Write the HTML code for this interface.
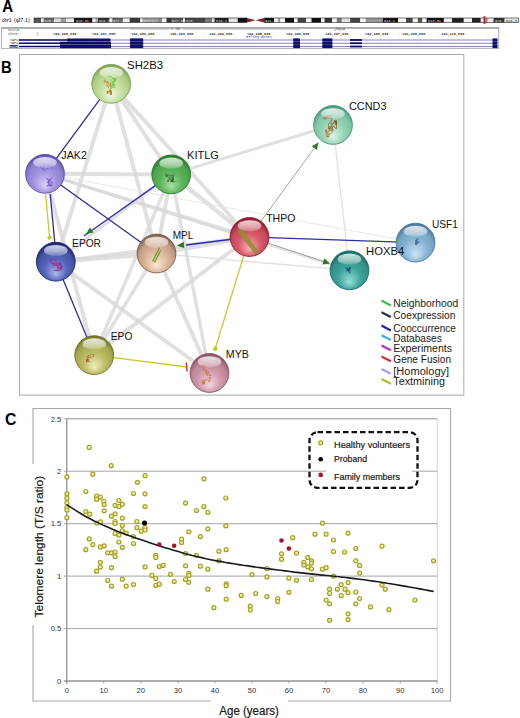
<!DOCTYPE html>
<html><head><meta charset="utf-8"><title>Figure</title>
<style>html,body{margin:0;padding:0;background:#fff;}body{width:520px;height:718px;overflow:hidden;position:relative;}
svg{position:absolute;left:0;top:0;font-family:"Liberation Sans",sans-serif;}</style></head>
<body><svg width="520" height="718" viewBox="0 0 520 718"><defs><radialGradient id="gSH2B3" cx="0.5" cy="0.6" r="0.58" fx="0.5" fy="0.82"><stop offset="0" stop-color="#eef7e0"/><stop offset="0.5" stop-color="#c4de9c"/><stop offset="0.8" stop-color="#afcd87"/><stop offset="1" stop-color="#7fa455"/></radialGradient><radialGradient id="gJAK2" cx="0.5" cy="0.6" r="0.58" fx="0.5" fy="0.82"><stop offset="0" stop-color="#d8d0f8"/><stop offset="0.5" stop-color="#a293e0"/><stop offset="0.8" stop-color="#8e7fd2"/><stop offset="1" stop-color="#5f4fb0"/></radialGradient><radialGradient id="gKITLG" cx="0.5" cy="0.6" r="0.58" fx="0.5" fy="0.82"><stop offset="0" stop-color="#a8e0a0"/><stop offset="0.5" stop-color="#5cb45c"/><stop offset="0.8" stop-color="#4da34d"/><stop offset="1" stop-color="#2a7a2a"/></radialGradient><radialGradient id="gCCND3" cx="0.5" cy="0.6" r="0.58" fx="0.5" fy="0.82"><stop offset="0" stop-color="#daf4e8"/><stop offset="0.5" stop-color="#96d4b6"/><stop offset="0.8" stop-color="#80c3a5"/><stop offset="1" stop-color="#4e9a7c"/></radialGradient><radialGradient id="gTHPO" cx="0.5" cy="0.6" r="0.58" fx="0.5" fy="0.82"><stop offset="0" stop-color="#f6b0b8"/><stop offset="0.5" stop-color="#d85a68"/><stop offset="0.8" stop-color="#c24757"/><stop offset="1" stop-color="#901c30"/></radialGradient><radialGradient id="gUSF1" cx="0.5" cy="0.6" r="0.58" fx="0.5" fy="0.82"><stop offset="0" stop-color="#cce6f6"/><stop offset="0.5" stop-color="#8ab6d6"/><stop offset="0.8" stop-color="#77a3c3"/><stop offset="1" stop-color="#4a7898"/></radialGradient><radialGradient id="gHOXB4" cx="0.5" cy="0.6" r="0.58" fx="0.5" fy="0.82"><stop offset="0" stop-color="#98e0d8"/><stop offset="0.5" stop-color="#3ea49c"/><stop offset="0.8" stop-color="#33938b"/><stop offset="1" stop-color="#1a6a64"/></radialGradient><radialGradient id="gEPOR" cx="0.5" cy="0.6" r="0.58" fx="0.5" fy="0.82"><stop offset="0" stop-color="#aab6ea"/><stop offset="0.5" stop-color="#5666bc"/><stop offset="0.8" stop-color="#4553a5"/><stop offset="1" stop-color="#1e2870"/></radialGradient><radialGradient id="gMPL" cx="0.5" cy="0.6" r="0.58" fx="0.5" fy="0.82"><stop offset="0" stop-color="#fbe6d6"/><stop offset="0.5" stop-color="#dcb69a"/><stop offset="0.8" stop-color="#c09d84"/><stop offset="1" stop-color="#806250"/></radialGradient><radialGradient id="gEPO" cx="0.5" cy="0.6" r="0.58" fx="0.5" fy="0.82"><stop offset="0" stop-color="#eeeebc"/><stop offset="0.5" stop-color="#bcbc64"/><stop offset="0.8" stop-color="#a6a653"/><stop offset="1" stop-color="#74742a"/></radialGradient><radialGradient id="gMYB" cx="0.5" cy="0.6" r="0.58" fx="0.5" fy="0.82"><stop offset="0" stop-color="#f2d6de"/><stop offset="0.5" stop-color="#d09aaa"/><stop offset="0.8" stop-color="#bb8494"/><stop offset="1" stop-color="#8a5262"/></radialGradient><linearGradient id="hl" x1="0" y1="0" x2="0" y2="1"><stop offset="0" stop-color="#fff" stop-opacity="0.8"/><stop offset="0.7" stop-color="#fff" stop-opacity="0.45"/><stop offset="1" stop-color="#fff" stop-opacity="0.15"/></linearGradient></defs>
<rect width="520" height="718" fill="#fff"/>
<text x="2.2" y="12.3" font-size="16" font-weight="bold" fill="#000" transform="translate(2,0) scale(0.94,1) translate(-2,0)">A</text>
<text x="2" y="21.8" font-size="5.8" font-weight="bold" font-family="Liberation Mono, monospace" fill="#2a2a2a" textLength="28" lengthAdjust="spacingAndGlyphs">chr3 (q27.1)</text>
<rect x="34" y="18.0" width="7.200000000000003" height="4.5" fill="#555"/>
<rect x="41.2" y="18.0" width="2.5" height="4.5" fill="#eee"/>
<rect x="43.7" y="18.0" width="10.699999999999996" height="4.5" fill="#6a6a6a"/>
<rect x="54.4" y="18.0" width="6.200000000000003" height="4.5" fill="#ddd"/>
<rect x="60.6" y="18.0" width="5.399999999999999" height="4.5" fill="#999"/>
<rect x="66" y="18.0" width="8" height="4.5" fill="#eaeaea"/>
<rect x="74" y="18.0" width="18.5" height="4.5" fill="#151515"/>
<rect x="92.5" y="18.0" width="2.9000000000000057" height="4.5" fill="#f0f0f0"/>
<rect x="95.4" y="18.0" width="2.5999999999999943" height="4.5" fill="#aaa"/>
<rect x="98" y="18.0" width="11.599999999999994" height="4.5" fill="#333"/>
<rect x="109.6" y="18.0" width="2.700000000000003" height="4.5" fill="#f4f4f4"/>
<rect x="112.3" y="18.0" width="10.700000000000003" height="4.5" fill="#666"/>
<rect x="123" y="18.0" width="6.599999999999994" height="4.5" fill="#eee"/>
<rect x="129.6" y="18.0" width="10.800000000000011" height="4.5" fill="#3a3a3a"/>
<rect x="140.4" y="18.0" width="1.9000000000000057" height="4.5" fill="#f4f4f4"/>
<rect x="142.3" y="18.0" width="15.0" height="4.5" fill="#a0a0a0"/>
<rect x="157.3" y="18.0" width="4.699999999999989" height="4.5" fill="#888"/>
<rect x="162" y="18.0" width="4.5" height="4.5" fill="#f4f4f4"/>
<rect x="166.5" y="18.0" width="4.5" height="4.5" fill="#333"/>
<rect x="171" y="18.0" width="12" height="4.5" fill="#555"/>
<rect x="183" y="18.0" width="2" height="4.5" fill="#eee"/>
<rect x="185" y="18.0" width="20" height="4.5" fill="#444"/>
<rect x="205" y="18.0" width="7" height="4.5" fill="#777"/>
<rect x="212" y="18.0" width="2.5999999999999943" height="4.5" fill="#ddd"/>
<rect x="214.6" y="18.0" width="14.200000000000017" height="4.5" fill="#222"/>
<rect x="228.8" y="18.0" width="8.899999999999977" height="4.5" fill="#e4e4e4"/>
<rect x="237.7" y="18.0" width="9.300000000000011" height="4.5" fill="#111"/>
<rect x="264.2" y="18.0" width="10.0" height="4.5" fill="#111"/>
<rect x="274.2" y="18.0" width="3.8000000000000114" height="4.5" fill="#eee"/>
<rect x="278" y="18.0" width="2.3999999999999773" height="4.5" fill="#999"/>
<rect x="280.4" y="18.0" width="4.600000000000023" height="4.5" fill="#f4f4f4"/>
<rect x="285" y="18.0" width="9" height="4.5" fill="#111"/>
<rect x="294" y="18.0" width="3.6000000000000227" height="4.5" fill="#f4f4f4"/>
<rect x="297.6" y="18.0" width="8.399999999999977" height="4.5" fill="#444"/>
<rect x="306" y="18.0" width="5.5" height="4.5" fill="#f4f4f4"/>
<rect x="311.5" y="18.0" width="9.5" height="4.5" fill="#111"/>
<rect x="321" y="18.0" width="3.5" height="4.5" fill="#f4f4f4"/>
<rect x="324.5" y="18.0" width="7.699999999999989" height="4.5" fill="#333"/>
<rect x="332.2" y="18.0" width="4.600000000000023" height="4.5" fill="#f4f4f4"/>
<rect x="336.8" y="18.0" width="5.0" height="4.5" fill="#777"/>
<rect x="341.8" y="18.0" width="8.399999999999977" height="4.5" fill="#e0e0e0"/>
<rect x="350.2" y="18.0" width="10.0" height="4.5" fill="#444"/>
<rect x="360.2" y="18.0" width="5.400000000000034" height="4.5" fill="#f4f4f4"/>
<rect x="365.6" y="18.0" width="17.19999999999999" height="4.5" fill="#999"/>
<rect x="382.8" y="18.0" width="15.399999999999977" height="4.5" fill="#111"/>
<rect x="398.2" y="18.0" width="7.800000000000011" height="4.5" fill="#f4f4f4"/>
<rect x="406" y="18.0" width="6.800000000000011" height="4.5" fill="#444"/>
<rect x="412.8" y="18.0" width="5.0" height="4.5" fill="#f4f4f4"/>
<rect x="417.8" y="18.0" width="4.599999999999966" height="4.5" fill="#555"/>
<rect x="422.4" y="18.0" width="4.2000000000000455" height="4.5" fill="#f4f4f4"/>
<rect x="426.6" y="18.0" width="17.299999999999955" height="4.5" fill="#111"/>
<rect x="443.9" y="18.0" width="8.100000000000023" height="4.5" fill="#eee"/>
<rect x="452" y="18.0" width="11.800000000000011" height="4.5" fill="#222"/>
<rect x="463.8" y="18.0" width="8.199999999999989" height="4.5" fill="#f4f4f4"/>
<rect x="472" y="18.0" width="8.800000000000011" height="4.5" fill="#222"/>
<rect x="480.8" y="18.0" width="2.6999999999999886" height="4.5" fill="#eee"/>
<rect x="485.4" y="18.0" width="2.3000000000000114" height="4.5" fill="#888"/>
<rect x="487.7" y="18.0" width="5.800000000000011" height="4.5" fill="#f4e8ec"/>
<rect x="493.5" y="18.0" width="11.100000000000023" height="4.5" fill="#333"/>
<rect x="504.6" y="18.0" width="13.899999999999977" height="4.5" fill="#e4e4e4"/>
<text x="44.5" y="21.6" font-size="3.6" fill="#ddd" font-family="Liberation Mono, monospace">q26.2</text>
<text x="76" y="21.6" font-size="3.6" fill="#ddd" font-family="Liberation Mono, monospace">q26.31</text>
<text x="99" y="21.6" font-size="3.6" fill="#ddd" font-family="Liberation Mono, monospace">q26.33</text>
<text x="113" y="21.6" font-size="3.6" fill="#ddd" font-family="Liberation Mono, monospace">q27.1</text>
<text x="143" y="21.6" font-size="3.6" fill="#ddd" font-family="Liberation Mono, monospace">q27.2</text>
<text x="172" y="21.6" font-size="3.6" fill="#ddd" font-family="Liberation Mono, monospace">q27.3</text>
<text x="186" y="21.6" font-size="3.6" fill="#ddd" font-family="Liberation Mono, monospace">q28</text>
<text x="216" y="21.6" font-size="3.6" fill="#ddd" font-family="Liberation Mono, monospace">p29.2</text>
<text x="265" y="21.6" font-size="3.6" fill="#ddd" font-family="Liberation Mono, monospace">q11.2</text>
<text x="384" y="21.6" font-size="3.6" fill="#ddd" font-family="Liberation Mono, monospace">q13.1</text>
<text x="428" y="21.6" font-size="3.6" fill="#ddd" font-family="Liberation Mono, monospace">q13.31</text>
<text x="495" y="21.6" font-size="3.6" fill="#ddd" font-family="Liberation Mono, monospace">q29</text>
<path d="M247,18.0 L34,18.0 L34,22.5 L247,22.5 M264.2,18.0 L518.5,18.0 L518.5,22.5 L264.2,22.5" fill="none" stroke="#222" stroke-width="0.6"/>
<path d="M247,18 L255.6,20.25 L247,22.5 Z M264.2,18 L255.6,20.25 L264.2,22.5 Z" fill="#8a1c2c"/>
<rect x="483.5" y="16.2" width="1.9" height="7.7" fill="#c81830"/>
<text x="506" y="21.6" font-size="3.6" fill="#333" font-family="Liberation Mono, monospace">q29.3</text>
<rect x="1.5" y="28" width="497.2" height="20.4" fill="#fff" stroke="#b0b0b0" stroke-width="1"/>
<line x1="1" y1="27.9" x2="499" y2="27.9" stroke="#9a9a9a" stroke-width="1.2"/>
<line x1="18.8" y1="31" x2="18.8" y2="48" stroke="#ececf6" stroke-width="0.5"/>
<line x1="28.6" y1="31" x2="28.6" y2="48" stroke="#ececf6" stroke-width="0.5"/>
<line x1="38.3" y1="31" x2="38.3" y2="48" stroke="#ececf6" stroke-width="0.5"/>
<line x1="48.0" y1="31" x2="48.0" y2="48" stroke="#ececf6" stroke-width="0.5"/>
<line x1="57.8" y1="31" x2="57.8" y2="48" stroke="#ececf6" stroke-width="0.5"/>
<line x1="67.5" y1="31" x2="67.5" y2="48" stroke="#ececf6" stroke-width="0.5"/>
<line x1="77.3" y1="31" x2="77.3" y2="48" stroke="#ececf6" stroke-width="0.5"/>
<line x1="87.0" y1="31" x2="87.0" y2="48" stroke="#ececf6" stroke-width="0.5"/>
<line x1="96.8" y1="31" x2="96.8" y2="48" stroke="#ececf6" stroke-width="0.5"/>
<line x1="106.5" y1="31" x2="106.5" y2="48" stroke="#ececf6" stroke-width="0.5"/>
<line x1="116.3" y1="31" x2="116.3" y2="48" stroke="#ececf6" stroke-width="0.5"/>
<line x1="126.0" y1="31" x2="126.0" y2="48" stroke="#ececf6" stroke-width="0.5"/>
<line x1="135.8" y1="31" x2="135.8" y2="48" stroke="#ececf6" stroke-width="0.5"/>
<line x1="145.6" y1="31" x2="145.6" y2="48" stroke="#ececf6" stroke-width="0.5"/>
<line x1="155.3" y1="31" x2="155.3" y2="48" stroke="#ececf6" stroke-width="0.5"/>
<line x1="165.1" y1="31" x2="165.1" y2="48" stroke="#ececf6" stroke-width="0.5"/>
<line x1="174.8" y1="31" x2="174.8" y2="48" stroke="#ececf6" stroke-width="0.5"/>
<line x1="184.6" y1="31" x2="184.6" y2="48" stroke="#ececf6" stroke-width="0.5"/>
<line x1="194.3" y1="31" x2="194.3" y2="48" stroke="#ececf6" stroke-width="0.5"/>
<line x1="204.1" y1="31" x2="204.1" y2="48" stroke="#ececf6" stroke-width="0.5"/>
<line x1="213.8" y1="31" x2="213.8" y2="48" stroke="#ececf6" stroke-width="0.5"/>
<line x1="223.6" y1="31" x2="223.6" y2="48" stroke="#ececf6" stroke-width="0.5"/>
<line x1="233.3" y1="31" x2="233.3" y2="48" stroke="#ececf6" stroke-width="0.5"/>
<line x1="243.1" y1="31" x2="243.1" y2="48" stroke="#ececf6" stroke-width="0.5"/>
<line x1="252.8" y1="31" x2="252.8" y2="48" stroke="#ececf6" stroke-width="0.5"/>
<line x1="262.6" y1="31" x2="262.6" y2="48" stroke="#ececf6" stroke-width="0.5"/>
<line x1="272.3" y1="31" x2="272.3" y2="48" stroke="#ececf6" stroke-width="0.5"/>
<line x1="282.1" y1="31" x2="282.1" y2="48" stroke="#ececf6" stroke-width="0.5"/>
<line x1="291.8" y1="31" x2="291.8" y2="48" stroke="#ececf6" stroke-width="0.5"/>
<line x1="301.6" y1="31" x2="301.6" y2="48" stroke="#ececf6" stroke-width="0.5"/>
<line x1="311.3" y1="31" x2="311.3" y2="48" stroke="#ececf6" stroke-width="0.5"/>
<line x1="321.1" y1="31" x2="321.1" y2="48" stroke="#ececf6" stroke-width="0.5"/>
<line x1="330.8" y1="31" x2="330.8" y2="48" stroke="#ececf6" stroke-width="0.5"/>
<line x1="340.6" y1="31" x2="340.6" y2="48" stroke="#ececf6" stroke-width="0.5"/>
<line x1="350.3" y1="31" x2="350.3" y2="48" stroke="#ececf6" stroke-width="0.5"/>
<line x1="360.1" y1="31" x2="360.1" y2="48" stroke="#ececf6" stroke-width="0.5"/>
<line x1="369.8" y1="31" x2="369.8" y2="48" stroke="#ececf6" stroke-width="0.5"/>
<line x1="379.6" y1="31" x2="379.6" y2="48" stroke="#ececf6" stroke-width="0.5"/>
<line x1="389.3" y1="31" x2="389.3" y2="48" stroke="#ececf6" stroke-width="0.5"/>
<line x1="399.1" y1="31" x2="399.1" y2="48" stroke="#ececf6" stroke-width="0.5"/>
<line x1="408.8" y1="31" x2="408.8" y2="48" stroke="#ececf6" stroke-width="0.5"/>
<line x1="418.6" y1="31" x2="418.6" y2="48" stroke="#ececf6" stroke-width="0.5"/>
<line x1="428.3" y1="31" x2="428.3" y2="48" stroke="#ececf6" stroke-width="0.5"/>
<line x1="438.1" y1="31" x2="438.1" y2="48" stroke="#ececf6" stroke-width="0.5"/>
<line x1="447.8" y1="31" x2="447.8" y2="48" stroke="#ececf6" stroke-width="0.5"/>
<line x1="457.6" y1="31" x2="457.6" y2="48" stroke="#ececf6" stroke-width="0.5"/>
<line x1="467.3" y1="31" x2="467.3" y2="48" stroke="#ececf6" stroke-width="0.5"/>
<line x1="477.1" y1="31" x2="477.1" y2="48" stroke="#ececf6" stroke-width="0.5"/>
<line x1="486.8" y1="31" x2="486.8" y2="48" stroke="#ececf6" stroke-width="0.5"/>
<line x1="496.6" y1="31" x2="496.6" y2="48" stroke="#ececf6" stroke-width="0.5"/>
<text x="8" y="31.4" font-size="3.8" fill="#333" font-family="Liberation Mono, monospace">Scale</text>
<text x="8" y="35" font-size="3.8" fill="#333" font-family="Liberation Mono, monospace">chr3:</text>
<text x="171" y="30.3" font-size="3.8" fill="#444" font-family="Liberation Mono, monospace">2 kb</text>
<line x1="130" y1="29.4" x2="170" y2="29.4" stroke="#888" stroke-width="0.4"/>
<line x1="183" y1="29.4" x2="300" y2="29.4" stroke="#888" stroke-width="0.4"/>
<text x="336" y="30.3" font-size="3.8" fill="#444" font-family="Liberation Mono, monospace">hg19</text>
<line x1="335" y1="28.6" x2="335" y2="31" stroke="#555" stroke-width="0.5"/>
<text x="36" y="35" font-size="3.8" fill="#333" font-family="Liberation Mono, monospace">|</text>
<text x="53" y="35.1" font-size="4.4" font-weight="bold" fill="#3a3a3a" font-family="Liberation Mono, monospace" textLength="23.5" lengthAdjust="spacingAndGlyphs">104,400,000</text>
<text x="92" y="35.1" font-size="4.4" font-weight="bold" fill="#3a3a3a" font-family="Liberation Mono, monospace" textLength="23.5" lengthAdjust="spacingAndGlyphs">104,401,000</text>
<text x="131" y="35.1" font-size="4.4" font-weight="bold" fill="#3a3a3a" font-family="Liberation Mono, monospace" textLength="23.5" lengthAdjust="spacingAndGlyphs">104,402,000</text>
<text x="170" y="35.1" font-size="4.4" font-weight="bold" fill="#3a3a3a" font-family="Liberation Mono, monospace" textLength="23.5" lengthAdjust="spacingAndGlyphs">104,403,000</text>
<text x="209" y="35.1" font-size="4.4" font-weight="bold" fill="#3a3a3a" font-family="Liberation Mono, monospace" textLength="23.5" lengthAdjust="spacingAndGlyphs">104,404,000</text>
<text x="247" y="35.1" font-size="4.4" font-weight="bold" fill="#3a3a3a" font-family="Liberation Mono, monospace" textLength="23.5" lengthAdjust="spacingAndGlyphs">104,405,000</text>
<text x="286" y="35.1" font-size="4.4" font-weight="bold" fill="#3a3a3a" font-family="Liberation Mono, monospace" textLength="23.5" lengthAdjust="spacingAndGlyphs">104,406,000</text>
<text x="325" y="35.1" font-size="4.4" font-weight="bold" fill="#3a3a3a" font-family="Liberation Mono, monospace" textLength="23.5" lengthAdjust="spacingAndGlyphs">104,407,000</text>
<text x="365" y="35.1" font-size="4.4" font-weight="bold" fill="#3a3a3a" font-family="Liberation Mono, monospace" textLength="23.5" lengthAdjust="spacingAndGlyphs">104,408,000</text>
<text x="402" y="35.1" font-size="4.4" font-weight="bold" fill="#3a3a3a" font-family="Liberation Mono, monospace" textLength="23.5" lengthAdjust="spacingAndGlyphs">104,409,000</text>
<text x="441" y="35.1" font-size="4.4" font-weight="bold" fill="#3a3a3a" font-family="Liberation Mono, monospace" textLength="23.5" lengthAdjust="spacingAndGlyphs">104,410,000</text>
<text x="246" y="38.3" font-size="3.6" fill="#3040b0" font-family="Liberation Mono, monospace">RefSeq Genes</text>
<text x="10" y="41" font-size="3.4" fill="#222" font-family="Liberation Mono, monospace">TAP1</text>
<text x="10" y="44.2" font-size="3.4" fill="#222" font-family="Liberation Mono, monospace">TAP1</text>
<rect x="9.8" y="45.1" width="8" height="2.9" fill="#1a1a70"/>
<text x="10" y="47.6" font-size="3.4" fill="#fff" font-family="Liberation Mono, monospace">NDUF</text>
<rect x="17.8" y="38.6" width="1.2" height="9.4" fill="#c8d0f0"/>
<line x1="19" y1="40.0" x2="496" y2="40.0" stroke="#8585b5" stroke-width="1.1"/>
<line x1="19" y1="40.0" x2="67" y2="40.0" stroke="#101070" stroke-width="1.6"/>
<line x1="19" y1="43.2" x2="496" y2="43.2" stroke="#8585b5" stroke-width="1.1"/>
<line x1="19" y1="43.2" x2="61" y2="43.2" stroke="#101070" stroke-width="1.6"/>
<line x1="19" y1="46.5" x2="496" y2="46.5" stroke="#8585b5" stroke-width="1.1"/>
<line x1="19" y1="46.5" x2="61" y2="46.5" stroke="#101070" stroke-width="1.6"/>
<rect x="67" y="38.5" width="43.5" height="3" fill="#0e0e66"/>
<rect x="60" y="41.7" width="51" height="3" fill="#0e0e66"/>
<rect x="60" y="45" width="51" height="3.2" fill="#0e0e66"/>
<rect x="130" y="38.4" width="13.199999999999989" height="3.2" fill="#0e0e66"/>
<rect x="130" y="41.6" width="13.199999999999989" height="3.2" fill="#0e0e66"/>
<rect x="130" y="44.9" width="13.199999999999989" height="3.2" fill="#0e0e66"/>
<rect x="293.2" y="38.4" width="6.800000000000011" height="3.2" fill="#0e0e66"/>
<rect x="293.2" y="41.6" width="6.800000000000011" height="3.2" fill="#0e0e66"/>
<rect x="293.2" y="44.9" width="6.800000000000011" height="3.2" fill="#0e0e66"/>
<rect x="322.3" y="38.4" width="10.099999999999966" height="3.2" fill="#0e0e66"/>
<rect x="322.3" y="41.6" width="10.099999999999966" height="3.2" fill="#0e0e66"/>
<rect x="322.3" y="44.9" width="10.099999999999966" height="3.2" fill="#0e0e66"/>
<rect x="492.5" y="38.4" width="5.0" height="3.2" fill="#0e0e66"/>
<rect x="492.5" y="41.6" width="5.0" height="3.2" fill="#0e0e66"/>
<rect x="492.5" y="44.9" width="5.0" height="3.2" fill="#0e0e66"/>
<rect x="350" y="39.1" width="12" height="1.8" fill="#0e0e66"/>
<rect x="350" y="42.300000000000004" width="12" height="1.8" fill="#0e0e66"/>
<rect x="350" y="45.6" width="12" height="1.8" fill="#0e0e66"/>
<text x="1.0" y="72.6" font-size="15.6" font-weight="bold" fill="#000" transform="translate(1,0) scale(0.95,1) translate(-1,0)">B</text>
<rect x="19.5" y="54.5" width="444.3" height="340.6" fill="#fff" stroke="#a8a8a8" stroke-width="1"/>
<g stroke-linecap="butt">
<line x1="111.2" y1="83.8" x2="55.8" y2="261.7" stroke="#d8d8d8" stroke-opacity="0.8" stroke-width="4"/>
<line x1="111.2" y1="83.8" x2="156.5" y2="253.5" stroke="#d8d8d8" stroke-opacity="0.8" stroke-width="4"/>
<line x1="111.2" y1="83.8" x2="171.2" y2="174.4" stroke="#d8d8d8" stroke-opacity="0.8" stroke-width="4"/>
<line x1="111.2" y1="83.8" x2="249.5" y2="237.0" stroke="#d8d8d8" stroke-opacity="0.8" stroke-width="4"/>
<line x1="45.0" y1="173.8" x2="171.2" y2="174.4" stroke="#d8d8d8" stroke-opacity="0.8" stroke-width="4"/>
<line x1="45.0" y1="173.8" x2="249.5" y2="237.0" stroke="#d8d8d8" stroke-opacity="0.8" stroke-width="3.5"/>
<line x1="45.0" y1="173.8" x2="349.5" y2="270.3" stroke="#d8d8d8" stroke-opacity="0.8" stroke-width="2.5"/>
<line x1="45.0" y1="173.8" x2="94.2" y2="355.1" stroke="#d8d8d8" stroke-opacity="0.8" stroke-width="4"/>
<line x1="171.2" y1="174.4" x2="333.0" y2="125.0" stroke="#d8d8d8" stroke-opacity="0.8" stroke-width="3"/>
<line x1="171.2" y1="174.4" x2="249.5" y2="237.0" stroke="#d8d8d8" stroke-opacity="0.8" stroke-width="4.5"/>
<line x1="171.2" y1="174.4" x2="156.5" y2="253.5" stroke="#d8d8d8" stroke-opacity="0.8" stroke-width="4"/>
<line x1="171.2" y1="174.4" x2="94.2" y2="355.1" stroke="#d8d8d8" stroke-opacity="0.8" stroke-width="3.5"/>
<line x1="171.2" y1="174.4" x2="209.5" y2="373.0" stroke="#d8d8d8" stroke-opacity="0.8" stroke-width="3.5"/>
<line x1="171.2" y1="174.4" x2="55.8" y2="261.7" stroke="#d8d8d8" stroke-opacity="0.8" stroke-width="3"/>
<line x1="55.8" y1="261.7" x2="156.5" y2="253.5" stroke="#d8d8d8" stroke-opacity="0.8" stroke-width="4.5"/>
<line x1="55.8" y1="261.7" x2="249.5" y2="237.0" stroke="#d8d8d8" stroke-opacity="0.8" stroke-width="3.5"/>
<line x1="55.8" y1="261.7" x2="209.5" y2="373.0" stroke="#d8d8d8" stroke-opacity="0.8" stroke-width="4"/>
<line x1="156.5" y1="253.5" x2="249.5" y2="237.0" stroke="#d8d8d8" stroke-opacity="0.8" stroke-width="4.5"/>
<line x1="156.5" y1="253.5" x2="209.5" y2="373.0" stroke="#d8d8d8" stroke-opacity="0.8" stroke-width="4"/>
<line x1="156.5" y1="253.5" x2="94.2" y2="355.1" stroke="#d8d8d8" stroke-opacity="0.8" stroke-width="3.5"/>
<line x1="94.2" y1="355.1" x2="249.5" y2="237.0" stroke="#d8d8d8" stroke-opacity="0.8" stroke-width="4"/>
<line x1="333.0" y1="125.0" x2="349.5" y2="270.3" stroke="#e2e2e2" stroke-width="1.4"/>
<line x1="156.5" y1="253.5" x2="349.5" y2="270.3" stroke="#e2e2e2" stroke-width="1.5"/>
<line x1="45.0" y1="173.8" x2="415.5" y2="242.6" stroke="#e2e2e2" stroke-width="0.8"/>
</g>
<line x1="111.2" y1="83.8" x2="45.0" y2="173.8" stroke="#2c2ca8" stroke-width="1.3"/>
<line x1="50.2" y1="194" x2="54.8" y2="243" stroke="#2c2ca8" stroke-width="1.3"/>
<line x1="45.0" y1="173.8" x2="156.5" y2="253.5" stroke="#2c2ca8" stroke-width="1.3"/>
<line x1="171.2" y1="174.4" x2="84" y2="236" stroke="#2c2ca8" stroke-width="1.3"/>
<line x1="55.8" y1="261.7" x2="94.2" y2="355.1" stroke="#2c2ca8" stroke-width="1.3"/>
<line x1="249.5" y1="237.0" x2="186" y2="245" stroke="#2c2ca8" stroke-width="1.3"/>
<line x1="249.5" y1="237.0" x2="415.5" y2="242.6" stroke="#2c2ca8" stroke-width="1.3"/>
<line x1="45.6" y1="194" x2="49.6" y2="237.6" stroke="#c8c830" stroke-width="1.3"/>
<circle cx="49.6" cy="237.6" r="2.2" fill="#c8c830"/>
<line x1="249.5" y1="237.0" x2="215.2" y2="348.7" stroke="#c8c830" stroke-width="1.3"/>
<circle cx="215.2" cy="348.7" r="2.2" fill="#c8c830"/>
<line x1="94.2" y1="355.1" x2="186.7" y2="367" stroke="#c8c830" stroke-width="1.3"/>
<line x1="186.2" y1="362.5" x2="187.2" y2="371.5" stroke="#e03040" stroke-width="1.5"/>
<line x1="249.5" y1="237.0" x2="318.4" y2="142.5" stroke="#9a9a9a" stroke-width="0.9"/>
<line x1="249.5" y1="237.0" x2="328.2" y2="263" stroke="#9a9a9a" stroke-width="0.9"/>
<path d="M318.4,142.5 L316.9,150.0 L311.7,146.3 Z" fill="#2a7a20"/>
<path d="M330.0,263.5 L322.4,264.4 L324.4,258.3 Z" fill="#2a7a20"/>
<path d="M177.0,245.8 L183.6,241.8 L184.3,248.1 Z" fill="#2a7a20"/>
<path d="M86.0,234.0 L89.9,227.4 L93.6,232.6 Z" fill="#2a7a20"/>
<circle cx="111.2" cy="83.8" r="19.4" fill="url(#gSH2B3)" stroke="#7fa455" stroke-width="0.9"/>
<path d="M114.2,82.8 111.9,85.0 113.5,83.5 113.5,83.1 114.5,85.0 111.9,82.0 114.0,81.5 115.7,78.3 115.4,79.8 113.6,82.6 116.2,79.6 113.2,79.9 116.0,79.1 114.2,78.6 111.1,76.8 110.7,76.8 109.0,76.3 107.7,76.3 107.7,76.3 109.9,76.7 110.8,76.3 113.9,78.6 111.5,77.5" stroke="#5cbf3c" stroke-width="1.0" fill="none" stroke-linejoin="round" opacity="0.7"/>
<path d="M115.2,84.8 113.2,85.8 112.1,83.9 112.0,83.9 111.9,83.6 110.4,82.0 111.6,80.9 112.7,82.7 115.1,85.6 113.4,83.9 114.9,84.4 113.0,85.5 115.4,87.7 113.6,86.4 110.4,89.4 109.7,90.3 109.9,90.3 110.1,90.3 110.8,89.0 109.7,88.9 112.4,86.6 113.6,87.5 111.4,85.6" stroke="#6ccf4c" stroke-width="1.0" fill="none" stroke-linejoin="round" opacity="0.7"/>
<path d="M106.2,84.8 109.1,87.7 106.3,85.0 108.4,86.5 109.5,85.3 110.2,86.0 110.7,83.8 110.3,83.1 111.2,86.3 111.2,86.6 110.8,85.1 107.9,82.0 107.7,80.9 106.9,83.4 107.0,83.8 105.4,80.7 104.2,79.8 104.3,83.0 105.4,81.0 107.9,82.9 109.4,85.5 111.1,87.3 110.2,89.8" stroke="#c08838" stroke-width="0.9" fill="none" stroke-linejoin="round" opacity="0.7"/>
<path d="M109.2,92.8 107.5,93.1 107.2,93.7 108.0,91.0 107.2,93.1 107.2,91.4 110.4,91.2 111.2,91.1 111.2,90.8 111.2,93.2 111.2,94.7 111.2,91.9 111.2,92.5 109.9,90.8 111.2,90.8 111.2,93.2 111.2,94.8 110.5,94.8 110.2,94.8 111.2,92.2 108.9,90.8 111.2,90.8 111.2,90.8" stroke="#b07020" stroke-width="1.0" fill="none" stroke-linejoin="round" opacity="0.7"/>
<ellipse cx="111.2" cy="72.6" rx="11.8" ry="5.6" fill="url(#hl)"/>
<text x="127.1" y="69.4" font-size="11" fill="#111" textLength="36.0" lengthAdjust="spacingAndGlyphs">SH2B3</text>
<circle cx="45.0" cy="173.8" r="19.4" fill="url(#gJAK2)" stroke="#5f4fb0" stroke-width="0.9"/>
<path d="M45.0,171.8 43.3,169.3 42.6,167.1 39.9,166.4 42.5,168.3 44.2,166.6 44.5,165.1 42.4,164.8 40.6,167.5 42.7,169.5 44.6,167.5 43.4,168.3 44.9,170.6 47.3,168.0 48.0,169.1 48.0,167.0 47.8,164.8 50.6,167.1 50.9,165.9 52.0,166.3 52.0,168.6 52.0,168.0 52.0,167.6" stroke="#7a5ad0" stroke-width="0.9" fill="none" stroke-linejoin="round" opacity="0.7"/>
<path d="M48.0,181.8 48.8,183.3 50.7,185.8 52.0,185.8 49.0,185.6 51.8,185.8 52.0,183.3 51.8,181.7 52.0,182.2 48.9,180.4 47.5,183.0 49.2,180.8 51.1,178.5 51.8,177.8 48.6,180.2 46.8,178.4 49.9,180.7 48.5,183.7 48.8,184.8 46.9,185.8 48.1,185.8 50.6,184.5 49.7,182.4" stroke="#6a48c0" stroke-width="0.9" fill="none" stroke-linejoin="round" opacity="0.7"/>
<ellipse cx="45.0" cy="162.60000000000002" rx="11.8" ry="5.6" fill="url(#hl)"/>
<text x="61.3" y="159.2" font-size="11" fill="#111" textLength="25.6" lengthAdjust="spacingAndGlyphs">JAK2</text>
<circle cx="171.2" cy="174.4" r="19.4" fill="url(#gKITLG)" stroke="#2a7a2a" stroke-width="0.9"/>
<path d="M171.2,174.4 173.1,176.5 173.0,174.9 169.8,176.0 169.6,177.6 168.8,179.4 167.3,181.3 168.8,180.7 169.0,181.4 167.1,181.4 169.0,179.9 171.0,181.1 173.2,180.0 170.6,181.4 172.5,181.0 169.9,179.1 170.8,177.8 173.7,178.3 171.8,179.3 170.9,181.4 173.5,181.4 174.4,181.4 176.4,181.4" stroke="#3a6a3a" stroke-width="0.8" fill="none" stroke-linejoin="round" opacity="0.7"/>
<path d="M172.2,177.4 173.3,179.2 173.5,179.3 172.8,182.5 171.4,180.2 169.9,178.7 168.8,177.2 166.3,176.1 166.2,176.5 166.2,173.8 166.2,174.1 166.2,175.6 168.1,175.0 166.2,176.5 167.8,175.8 168.8,174.5 171.5,176.6 173.4,179.6 171.7,179.8 173.1,181.8 172.4,179.5 173.3,176.9 174.6,173.8" stroke="#2a5a2a" stroke-width="0.8" fill="none" stroke-linejoin="round" opacity="0.7"/>
<ellipse cx="171.2" cy="163.20000000000002" rx="11.8" ry="5.6" fill="url(#hl)"/>
<text x="187.1" y="159.2" font-size="11" fill="#111" textLength="31.7" lengthAdjust="spacingAndGlyphs">KITLG</text>
<circle cx="333.0" cy="125.0" r="19.4" fill="url(#gCCND3)" stroke="#4e9a7c" stroke-width="0.9"/>
<path d="M332.0,124.0 330.9,121.8 331.8,119.0 332.1,118.2 329.2,118.2 326.3,117.8 324.0,116.0 324.0,118.1 324.0,116.3 324.8,119.2 325.3,118.5 328.4,116.0 330.7,116.0 328.4,116.0 327.1,118.0 325.1,118.5 326.0,117.7 326.3,116.0 324.0,116.0 325.2,116.0 324.0,116.5 324.0,116.0 325.9,117.3" stroke="#9a5a28" stroke-width="1.1" fill="none" stroke-linejoin="round" opacity="0.7"/>
<path d="M333.0,130.0 331.3,133.0 328.9,134.3 326.2,132.7 329.4,130.8 330.3,130.5 330.0,130.5 328.0,132.6 326.0,130.9 326.0,129.4 326.0,132.0 326.0,129.5 326.0,132.7 326.0,133.4 326.0,134.5 326.0,135.7 326.0,136.6 328.6,137.0 326.3,134.2 329.1,134.1 327.2,137.0 327.7,137.0 330.1,135.6" stroke="#b07838" stroke-width="1.0" fill="none" stroke-linejoin="round" opacity="0.7"/>
<path d="M330.0,127.0 333.0,123.9 334.5,121.7 336.5,120.5 336.5,121.7 336.5,124.9 334.8,123.8 336.2,122.4 334.7,120.7 336.5,123.1 336.5,121.3 336.5,121.4 334.8,121.1 334.3,120.5 334.7,120.5 335.1,123.3 336.1,122.6 336.5,125.8 336.4,128.7 333.4,126.4 331.3,129.2 332.5,130.6 331.1,130.5" stroke="#8a4a20" stroke-width="1.0" fill="none" stroke-linejoin="round" opacity="0.7"/>
<path d="M335.0,126.0 334.1,125.9 333.6,125.5 333.0,126.5 331.5,127.4 328.5,126.1 328.5,123.8 330.1,122.6 331.9,125.6 330.3,128.1 332.3,129.1 329.3,128.9 330.1,127.6 328.5,126.3 328.5,128.2 328.5,127.7 329.4,130.6 328.5,127.6 331.5,129.8 333.4,129.9 331.7,127.7 330.4,127.5 328.5,128.7" stroke="#a86a30" stroke-width="1.0" fill="none" stroke-linejoin="round" opacity="0.7"/>
<ellipse cx="333.0" cy="113.8" rx="11.8" ry="5.6" fill="url(#hl)"/>
<text x="349.0" y="110.2" font-size="11" fill="#111" textLength="37.5" lengthAdjust="spacingAndGlyphs">CCND3</text>
<circle cx="249.5" cy="237.0" r="19.4" fill="url(#gTHPO)" stroke="#901c30" stroke-width="0.9"/>
<path d="M240.5,231.0 L255.5,251.0" stroke="#7a9a30" stroke-width="4.6" stroke-linecap="round" opacity="0.8"/>
<path d="M240.5,231.0 L255.5,251.0" stroke="#c07830" stroke-width="4" stroke-dasharray="1.2 1.6" opacity="0.7"/>
<ellipse cx="249.5" cy="225.8" rx="11.8" ry="5.6" fill="url(#hl)"/>
<text x="266.2" y="221.9" font-size="11" fill="#111" textLength="29.2" lengthAdjust="spacingAndGlyphs">THPO</text>
<circle cx="415.5" cy="242.6" r="19.4" fill="url(#gUSF1)" stroke="#4a7898" stroke-width="0.9"/>
<path d="M419.5,242.6 419.3,241.8 416.9,244.1 415.5,244.2 418.0,241.5 418.4,242.2 415.5,241.4 416.8,241.1 418.2,238.9 416.6,238.6 416.6,241.3 417.2,243.1 416.4,244.6 415.5,243.3 416.6,244.8 416.1,242.1 415.5,240.3 415.5,242.2 415.5,244.7 417.9,241.9 417.2,241.8 415.5,241.3 418.1,238.8" stroke="#3a6a9a" stroke-width="0.9" fill="none" stroke-linejoin="round" opacity="0.7"/>
<ellipse cx="415.5" cy="231.4" rx="11.8" ry="5.6" fill="url(#hl)"/>
<text x="432.0" y="227.9" font-size="11" fill="#111" textLength="25.9" lengthAdjust="spacingAndGlyphs">USF1</text>
<circle cx="349.5" cy="270.3" r="19.4" fill="url(#gHOXB4)" stroke="#1a6a64" stroke-width="0.9"/>
<path d="M346.5,271.3 347.0,270.8 347.5,269.0 349.5,271.0 350.0,268.9 350.0,267.8 348.4,270.7 350.0,267.8 350.0,268.5 349.2,267.8 350.0,267.8 350.0,268.8 347.7,270.5 350.0,273.6 350.0,270.6 346.8,268.3 349.6,267.8 348.8,270.3 347.6,270.7 347.2,267.9 347.7,270.1 345.5,268.3 345.0,267.8" stroke="#1e4e7e" stroke-width="1.0" fill="none" stroke-linejoin="round" opacity="0.7"/>
<ellipse cx="349.5" cy="259.1" rx="11.8" ry="5.6" fill="url(#hl)"/>
<text x="366.1" y="254.7" font-size="11" fill="#111" textLength="38.1" lengthAdjust="spacingAndGlyphs">HOXB4</text>
<circle cx="55.8" cy="261.7" r="19.4" fill="url(#gEPOR)" stroke="#1e2870" stroke-width="0.9"/>
<path d="M56.8,262.7 56.5,263.1 59.2,262.9 59.3,263.4 57.2,263.5 58.1,265.4 55.5,264.1 52.9,266.1 54.1,263.2 57.2,266.1 58.2,266.9 56.0,263.8 56.2,261.0 54.2,259.3 51.2,259.1 50.8,261.3 50.9,262.2 50.9,263.2 50.8,261.8 54.0,265.0 56.2,266.3 55.0,264.6 53.6,261.8" stroke="#a02a8a" stroke-width="1.1" fill="none" stroke-linejoin="round" opacity="0.7"/>
<path d="M57.8,266.7 57.9,268.7 60.9,267.3 61.8,268.6 61.8,266.1 58.8,265.4 60.3,263.8 60.4,262.7 61.8,265.5 61.2,268.7 58.4,270.7 60.8,268.5 61.8,268.8 61.8,267.0 61.8,269.4 61.8,268.2 59.1,270.7 59.0,270.7 56.7,270.7 58.7,270.7 55.6,269.9 53.8,270.7 53.8,270.7" stroke="#902080" stroke-width="1.1" fill="none" stroke-linejoin="round" opacity="0.7"/>
<ellipse cx="55.8" cy="250.5" rx="11.8" ry="5.6" fill="url(#hl)"/>
<text x="72.1" y="246.7" font-size="11" fill="#111" textLength="28.9" lengthAdjust="spacingAndGlyphs">EPOR</text>
<circle cx="156.5" cy="253.5" r="19.4" fill="url(#gMPL)" stroke="#806250" stroke-width="0.9"/>
<path d="M159.5,247.5 L152.5,261.5 M160.5,250.5 L154.5,262.5" stroke="#6a9a30" stroke-width="1.3" fill="none"/>
<path d="M160.0,249.0 L153.5,262.0" stroke="#b0c860" stroke-width="0.8" fill="none"/>
<ellipse cx="156.5" cy="242.3" rx="11.8" ry="5.6" fill="url(#hl)"/>
<text x="172.7" y="238.7" font-size="11" fill="#111" textLength="20.6" lengthAdjust="spacingAndGlyphs">MPL</text>
<circle cx="94.2" cy="355.1" r="19.4" fill="url(#gEPO)" stroke="#74742a" stroke-width="0.9"/>
<path d="M93.2,356.1 93.0,357.1 94.1,354.8 91.0,354.0 89.5,356.0 90.7,356.7 91.1,357.7 88.8,357.3 86.7,359.9 86.7,361.9 86.7,362.6 86.7,362.0 88.9,358.9 86.7,361.6 86.8,358.9 89.9,361.8 87.4,361.3 86.7,360.1 87.5,358.0 88.7,355.1 86.7,357.1 86.7,356.6 87.3,356.4" stroke="#9a6030" stroke-width="0.9" fill="none" stroke-linejoin="round" opacity="0.7"/>
<ellipse cx="94.2" cy="343.90000000000003" rx="11.8" ry="5.6" fill="url(#hl)"/>
<text x="110.8" y="340.0" font-size="11" fill="#111" textLength="21.5" lengthAdjust="spacingAndGlyphs">EPO</text>
<circle cx="209.5" cy="373.0" r="19.4" fill="url(#gMYB)" stroke="#8a5262" stroke-width="0.9"/>
<path d="M207.5,370.0 206.0,371.2 207.1,373.4 205.1,371.7 202.9,369.9 204.4,367.6 204.6,365.7 203.3,365.3 205.4,366.0 202.3,364.6 202.0,366.9 204.0,368.9 206.1,370.5 208.9,372.3 207.4,374.6 207.3,375.5 207.7,375.0 206.8,374.6 205.7,372.2 207.7,374.1 210.8,375.3 211.2,375.5 208.8,375.5" stroke="#c07030" stroke-width="0.9" fill="none" stroke-linejoin="round" opacity="0.7"/>
<path d="M206.5,380.0 204.0,381.3 205.0,384.1 203.5,382.6 205.0,383.6 203.7,384.5 203.1,384.5 202.0,382.7 204.6,381.8 203.0,383.8 203.9,381.5 204.2,382.6 202.1,383.5 202.0,382.5 202.0,380.6 205.1,380.0 208.2,379.6 208.9,382.0 210.1,379.5 210.7,380.4 208.6,377.8 211.0,377.9 209.0,377.5" stroke="#c07838" stroke-width="0.9" fill="none" stroke-linejoin="round" opacity="0.7"/>
<ellipse cx="209.5" cy="361.8" rx="11.8" ry="5.6" fill="url(#hl)"/>
<text x="225.8" y="357.7" font-size="11" fill="#111" textLength="23.0" lengthAdjust="spacingAndGlyphs">MYB</text>
<line x1="381.5" y1="300.6" x2="390.8" y2="305.40000000000003" stroke="#3cc040" stroke-width="2.2"/>
<text x="393.3" y="307.0" font-size="10" fill="#1a1a1a" textLength="65.0" lengthAdjust="spacingAndGlyphs">Neighborhood</text>
<line x1="381.5" y1="312.2" x2="390.8" y2="317.0" stroke="#303040" stroke-width="2.2"/>
<text x="393.3" y="318.59999999999997" font-size="10" fill="#1a1a1a" textLength="62.0" lengthAdjust="spacingAndGlyphs">Coexpression</text>
<line x1="381.5" y1="325.6" x2="390.8" y2="330.40000000000003" stroke="#2020c0" stroke-width="2.2"/>
<text x="393.3" y="332.0" font-size="10" fill="#1a1a1a" textLength="62.6" lengthAdjust="spacingAndGlyphs">Cooccurrence</text>
<line x1="381.5" y1="335.3" x2="390.8" y2="340.1" stroke="#38b0d8" stroke-width="2.2"/>
<text x="393.3" y="341.7" font-size="10" fill="#1a1a1a" textLength="48.5" lengthAdjust="spacingAndGlyphs">Databases</text>
<line x1="381.5" y1="345.5" x2="390.8" y2="350.3" stroke="#b030c0" stroke-width="2.2"/>
<text x="393.3" y="351.9" font-size="10" fill="#1a1a1a" textLength="58.7" lengthAdjust="spacingAndGlyphs">Experiments</text>
<line x1="381.5" y1="356.40000000000003" x2="390.8" y2="361.20000000000005" stroke="#e02838" stroke-width="2.2"/>
<text x="393.3" y="362.8" font-size="10" fill="#1a1a1a" textLength="57.8" lengthAdjust="spacingAndGlyphs">Gene Fusion</text>
<line x1="381.5" y1="368.90000000000003" x2="390.8" y2="373.70000000000005" stroke="#a0a0f0" stroke-width="2.2"/>
<text x="393.3" y="375.3" font-size="10" fill="#1a1a1a" textLength="55.8" lengthAdjust="spacingAndGlyphs">[Homology]</text>
<line x1="381.5" y1="378.90000000000003" x2="390.8" y2="383.70000000000005" stroke="#a8c030" stroke-width="2.2"/>
<text x="393.3" y="385.3" font-size="10" fill="#1a1a1a" textLength="51.6" lengthAdjust="spacingAndGlyphs">Textmining</text>
<text x="4.9" y="425.2" font-size="15.8" font-weight="bold" fill="#000">C</text>
<path d="M33,464 L33,408.5 L450.5,408.5 L450.5,701 L288,701 M211,701 L33,701 L33,625" fill="none" stroke="#a8a8a8" stroke-width="1.1"/>
<rect x="66.75" y="418.8" width="370.45" height="262.2" fill="none" stroke="#d0d0d0" stroke-width="0.9"/>
<line x1="63.75" y1="628.6" x2="437.2" y2="628.6" stroke="#9a9a9a" stroke-width="0.9"/>
<line x1="63.75" y1="576.1" x2="437.2" y2="576.1" stroke="#9a9a9a" stroke-width="0.9"/>
<line x1="63.75" y1="523.7" x2="437.2" y2="523.7" stroke="#9a9a9a" stroke-width="0.9"/>
<line x1="63.75" y1="471.2" x2="437.2" y2="471.2" stroke="#9a9a9a" stroke-width="0.9"/>
<line x1="63.75" y1="418.8" x2="437.2" y2="418.8" stroke="#9a9a9a" stroke-width="0.9"/>
<line x1="66.75" y1="418.8" x2="66.75" y2="683.5" stroke="#9a9a9a" stroke-width="1.3"/>
<line x1="63.75" y1="681.0" x2="437.2" y2="681.0" stroke="#9a9a9a" stroke-width="1.3"/>
<line x1="66.8" y1="681.0" x2="66.8" y2="683.5" stroke="#9a9a9a" stroke-width="0.9"/>
<text x="66.8" y="693.3" font-size="7.6" fill="#333" text-anchor="middle">0</text>
<line x1="103.8" y1="681.0" x2="103.8" y2="683.5" stroke="#9a9a9a" stroke-width="0.9"/>
<text x="103.8" y="693.3" font-size="7.6" fill="#333" text-anchor="middle">10</text>
<line x1="140.8" y1="681.0" x2="140.8" y2="683.5" stroke="#9a9a9a" stroke-width="0.9"/>
<text x="140.8" y="693.3" font-size="7.6" fill="#333" text-anchor="middle">20</text>
<line x1="177.9" y1="681.0" x2="177.9" y2="683.5" stroke="#9a9a9a" stroke-width="0.9"/>
<text x="177.9" y="693.3" font-size="7.6" fill="#333" text-anchor="middle">30</text>
<line x1="214.9" y1="681.0" x2="214.9" y2="683.5" stroke="#9a9a9a" stroke-width="0.9"/>
<text x="214.9" y="693.3" font-size="7.6" fill="#333" text-anchor="middle">40</text>
<line x1="252.0" y1="681.0" x2="252.0" y2="683.5" stroke="#9a9a9a" stroke-width="0.9"/>
<text x="252.0" y="693.3" font-size="7.6" fill="#333" text-anchor="middle">50</text>
<line x1="289.0" y1="681.0" x2="289.0" y2="683.5" stroke="#9a9a9a" stroke-width="0.9"/>
<text x="289.0" y="693.3" font-size="7.6" fill="#333" text-anchor="middle">60</text>
<line x1="326.1" y1="681.0" x2="326.1" y2="683.5" stroke="#9a9a9a" stroke-width="0.9"/>
<text x="326.1" y="693.3" font-size="7.6" fill="#333" text-anchor="middle">70</text>
<line x1="363.1" y1="681.0" x2="363.1" y2="683.5" stroke="#9a9a9a" stroke-width="0.9"/>
<text x="363.1" y="693.3" font-size="7.6" fill="#333" text-anchor="middle">80</text>
<line x1="400.2" y1="681.0" x2="400.2" y2="683.5" stroke="#9a9a9a" stroke-width="0.9"/>
<text x="400.2" y="693.3" font-size="7.6" fill="#333" text-anchor="middle">90</text>
<line x1="437.2" y1="681.0" x2="437.2" y2="683.5" stroke="#9a9a9a" stroke-width="0.9"/>
<text x="437.2" y="693.3" font-size="7.6" fill="#333" text-anchor="middle">100</text>
<text x="61.2" y="683.7" font-size="7.6" fill="#333" text-anchor="end">0</text>
<text x="61.2" y="631.3" font-size="7.6" fill="#333" text-anchor="end">0.5</text>
<text x="61.2" y="578.8" font-size="7.6" fill="#333" text-anchor="end">1</text>
<text x="61.2" y="526.4" font-size="7.6" fill="#333" text-anchor="end">1.5</text>
<text x="61.2" y="473.9" font-size="7.6" fill="#333" text-anchor="end">2</text>
<text x="61.2" y="421.5" font-size="7.6" fill="#333" text-anchor="end">2.5</text>
<rect x="326" y="466" width="86" height="10" fill="#fff"/>
<circle cx="89.2" cy="447.4" r="2.0" fill="#f0f09a" stroke="#a2a22a" stroke-width="1.2"/>
<circle cx="111.2" cy="465.7" r="2.0" fill="#f0f09a" stroke="#a2a22a" stroke-width="1.2"/>
<circle cx="66.9" cy="476.9" r="2.0" fill="#f0f09a" stroke="#a2a22a" stroke-width="1.2"/>
<circle cx="92.8" cy="474.2" r="2.0" fill="#f0f09a" stroke="#a2a22a" stroke-width="1.2"/>
<circle cx="137.4" cy="482.3" r="2.0" fill="#f0f09a" stroke="#a2a22a" stroke-width="1.2"/>
<circle cx="85.8" cy="491.5" r="2.0" fill="#f0f09a" stroke="#a2a22a" stroke-width="1.2"/>
<circle cx="66.9" cy="493.8" r="2.0" fill="#f0f09a" stroke="#a2a22a" stroke-width="1.2"/>
<circle cx="66.9" cy="498.2" r="2.0" fill="#f0f09a" stroke="#a2a22a" stroke-width="1.2"/>
<circle cx="66.9" cy="502.8" r="2.0" fill="#f0f09a" stroke="#a2a22a" stroke-width="1.2"/>
<circle cx="66.9" cy="507.7" r="2.0" fill="#f0f09a" stroke="#a2a22a" stroke-width="1.2"/>
<circle cx="66.9" cy="510" r="2.0" fill="#f0f09a" stroke="#a2a22a" stroke-width="1.2"/>
<circle cx="66.9" cy="517.7" r="2.0" fill="#f0f09a" stroke="#a2a22a" stroke-width="1.2"/>
<circle cx="96.6" cy="496.2" r="2.0" fill="#f0f09a" stroke="#a2a22a" stroke-width="1.2"/>
<circle cx="100.3" cy="497.2" r="2.0" fill="#f0f09a" stroke="#a2a22a" stroke-width="1.2"/>
<circle cx="96.6" cy="499.2" r="2.0" fill="#f0f09a" stroke="#a2a22a" stroke-width="1.2"/>
<circle cx="103.8" cy="501.5" r="2.0" fill="#f0f09a" stroke="#a2a22a" stroke-width="1.2"/>
<circle cx="104.2" cy="504.6" r="2.0" fill="#f0f09a" stroke="#a2a22a" stroke-width="1.2"/>
<circle cx="118.9" cy="500.5" r="2.0" fill="#f0f09a" stroke="#a2a22a" stroke-width="1.2"/>
<circle cx="115.1" cy="505.4" r="2.0" fill="#f0f09a" stroke="#a2a22a" stroke-width="1.2"/>
<circle cx="118.9" cy="506.5" r="2.0" fill="#f0f09a" stroke="#a2a22a" stroke-width="1.2"/>
<circle cx="122.3" cy="504.3" r="2.0" fill="#f0f09a" stroke="#a2a22a" stroke-width="1.2"/>
<circle cx="133.5" cy="493.5" r="2.0" fill="#f0f09a" stroke="#a2a22a" stroke-width="1.2"/>
<circle cx="85.8" cy="511.5" r="2.0" fill="#f0f09a" stroke="#a2a22a" stroke-width="1.2"/>
<circle cx="89.7" cy="514.2" r="2.0" fill="#f0f09a" stroke="#a2a22a" stroke-width="1.2"/>
<circle cx="104.2" cy="510.8" r="2.0" fill="#f0f09a" stroke="#a2a22a" stroke-width="1.2"/>
<circle cx="111.5" cy="516.2" r="2.0" fill="#f0f09a" stroke="#a2a22a" stroke-width="1.2"/>
<circle cx="115.1" cy="513.8" r="2.0" fill="#f0f09a" stroke="#a2a22a" stroke-width="1.2"/>
<circle cx="122.3" cy="518.2" r="2.0" fill="#f0f09a" stroke="#a2a22a" stroke-width="1.2"/>
<circle cx="96.9" cy="523.1" r="2.0" fill="#f0f09a" stroke="#a2a22a" stroke-width="1.2"/>
<circle cx="100.5" cy="521.8" r="2.0" fill="#f0f09a" stroke="#a2a22a" stroke-width="1.2"/>
<circle cx="115.1" cy="521.5" r="2.0" fill="#f0f09a" stroke="#a2a22a" stroke-width="1.2"/>
<circle cx="115.1" cy="523.5" r="2.0" fill="#f0f09a" stroke="#a2a22a" stroke-width="1.2"/>
<circle cx="122.3" cy="525.4" r="2.0" fill="#f0f09a" stroke="#a2a22a" stroke-width="1.2"/>
<circle cx="136.9" cy="521.5" r="2.0" fill="#f0f09a" stroke="#a2a22a" stroke-width="1.2"/>
<circle cx="136.9" cy="527.7" r="2.0" fill="#f0f09a" stroke="#a2a22a" stroke-width="1.2"/>
<circle cx="122.3" cy="530.8" r="2.0" fill="#f0f09a" stroke="#a2a22a" stroke-width="1.2"/>
<circle cx="115.1" cy="533.5" r="2.0" fill="#f0f09a" stroke="#a2a22a" stroke-width="1.2"/>
<circle cx="118.9" cy="535.1" r="2.0" fill="#f0f09a" stroke="#a2a22a" stroke-width="1.2"/>
<circle cx="126.2" cy="533.1" r="2.0" fill="#f0f09a" stroke="#a2a22a" stroke-width="1.2"/>
<circle cx="133.5" cy="536.6" r="2.0" fill="#f0f09a" stroke="#a2a22a" stroke-width="1.2"/>
<circle cx="89.2" cy="538.9" r="2.0" fill="#f0f09a" stroke="#a2a22a" stroke-width="1.2"/>
<circle cx="92.8" cy="544.6" r="2.0" fill="#f0f09a" stroke="#a2a22a" stroke-width="1.2"/>
<circle cx="85.8" cy="549.7" r="2.0" fill="#f0f09a" stroke="#a2a22a" stroke-width="1.2"/>
<circle cx="100.3" cy="546.9" r="2.0" fill="#f0f09a" stroke="#a2a22a" stroke-width="1.2"/>
<circle cx="104.2" cy="545.8" r="2.0" fill="#f0f09a" stroke="#a2a22a" stroke-width="1.2"/>
<circle cx="118.9" cy="542" r="2.0" fill="#f0f09a" stroke="#a2a22a" stroke-width="1.2"/>
<circle cx="122.3" cy="547.4" r="2.0" fill="#f0f09a" stroke="#a2a22a" stroke-width="1.2"/>
<circle cx="133.5" cy="543.5" r="2.0" fill="#f0f09a" stroke="#a2a22a" stroke-width="1.2"/>
<circle cx="107.7" cy="552.8" r="2.0" fill="#f0f09a" stroke="#a2a22a" stroke-width="1.2"/>
<circle cx="111.5" cy="552.8" r="2.0" fill="#f0f09a" stroke="#a2a22a" stroke-width="1.2"/>
<circle cx="115.1" cy="552" r="2.0" fill="#f0f09a" stroke="#a2a22a" stroke-width="1.2"/>
<circle cx="115.1" cy="556.5" r="2.0" fill="#f0f09a" stroke="#a2a22a" stroke-width="1.2"/>
<circle cx="100.3" cy="562.3" r="2.0" fill="#f0f09a" stroke="#a2a22a" stroke-width="1.2"/>
<circle cx="100.3" cy="567.2" r="2.0" fill="#f0f09a" stroke="#a2a22a" stroke-width="1.2"/>
<circle cx="96.6" cy="571.2" r="2.0" fill="#f0f09a" stroke="#a2a22a" stroke-width="1.2"/>
<circle cx="111.5" cy="567.7" r="2.0" fill="#f0f09a" stroke="#a2a22a" stroke-width="1.2"/>
<circle cx="107.7" cy="580.5" r="2.0" fill="#f0f09a" stroke="#a2a22a" stroke-width="1.2"/>
<circle cx="122.3" cy="579.2" r="2.0" fill="#f0f09a" stroke="#a2a22a" stroke-width="1.2"/>
<circle cx="111.5" cy="586.2" r="2.0" fill="#f0f09a" stroke="#a2a22a" stroke-width="1.2"/>
<circle cx="126.2" cy="586.2" r="2.0" fill="#f0f09a" stroke="#a2a22a" stroke-width="1.2"/>
<circle cx="133.5" cy="584.6" r="2.0" fill="#f0f09a" stroke="#a2a22a" stroke-width="1.2"/>
<circle cx="145" cy="475.7" r="2.0" fill="#f0f09a" stroke="#a2a22a" stroke-width="1.2"/>
<circle cx="203.9" cy="478.8" r="2.0" fill="#f0f09a" stroke="#a2a22a" stroke-width="1.2"/>
<circle cx="145" cy="493.8" r="2.0" fill="#f0f09a" stroke="#a2a22a" stroke-width="1.2"/>
<circle cx="145" cy="506.6" r="2.0" fill="#f0f09a" stroke="#a2a22a" stroke-width="1.2"/>
<circle cx="185.5" cy="503.1" r="2.0" fill="#f0f09a" stroke="#a2a22a" stroke-width="1.2"/>
<circle cx="196.5" cy="510.5" r="2.0" fill="#f0f09a" stroke="#a2a22a" stroke-width="1.2"/>
<circle cx="203.9" cy="506.6" r="2.0" fill="#f0f09a" stroke="#a2a22a" stroke-width="1.2"/>
<circle cx="207.8" cy="512.3" r="2.0" fill="#f0f09a" stroke="#a2a22a" stroke-width="1.2"/>
<circle cx="141.2" cy="531.2" r="2.0" fill="#f0f09a" stroke="#a2a22a" stroke-width="1.2"/>
<circle cx="145" cy="527.4" r="2.0" fill="#f0f09a" stroke="#a2a22a" stroke-width="1.2"/>
<circle cx="145" cy="530" r="2.0" fill="#f0f09a" stroke="#a2a22a" stroke-width="1.2"/>
<circle cx="188.8" cy="531.8" r="2.0" fill="#f0f09a" stroke="#a2a22a" stroke-width="1.2"/>
<circle cx="207.8" cy="528.8" r="2.0" fill="#f0f09a" stroke="#a2a22a" stroke-width="1.2"/>
<circle cx="200.4" cy="536.6" r="2.0" fill="#f0f09a" stroke="#a2a22a" stroke-width="1.2"/>
<circle cx="181.6" cy="539.2" r="2.0" fill="#f0f09a" stroke="#a2a22a" stroke-width="1.2"/>
<circle cx="181.6" cy="542.6" r="2.0" fill="#f0f09a" stroke="#a2a22a" stroke-width="1.2"/>
<circle cx="155.8" cy="555.4" r="2.0" fill="#f0f09a" stroke="#a2a22a" stroke-width="1.2"/>
<circle cx="155.8" cy="557.4" r="2.0" fill="#f0f09a" stroke="#a2a22a" stroke-width="1.2"/>
<circle cx="185.5" cy="553.5" r="2.0" fill="#f0f09a" stroke="#a2a22a" stroke-width="1.2"/>
<circle cx="196.5" cy="555.4" r="2.0" fill="#f0f09a" stroke="#a2a22a" stroke-width="1.2"/>
<circle cx="145" cy="566.9" r="2.0" fill="#f0f09a" stroke="#a2a22a" stroke-width="1.2"/>
<circle cx="159.3" cy="566.6" r="2.0" fill="#f0f09a" stroke="#a2a22a" stroke-width="1.2"/>
<circle cx="163.2" cy="565.4" r="2.0" fill="#f0f09a" stroke="#a2a22a" stroke-width="1.2"/>
<circle cx="185.5" cy="565.8" r="2.0" fill="#f0f09a" stroke="#a2a22a" stroke-width="1.2"/>
<circle cx="200.4" cy="566.2" r="2.0" fill="#f0f09a" stroke="#a2a22a" stroke-width="1.2"/>
<circle cx="207.8" cy="569.2" r="2.0" fill="#f0f09a" stroke="#a2a22a" stroke-width="1.2"/>
<circle cx="151.9" cy="575.4" r="2.0" fill="#f0f09a" stroke="#a2a22a" stroke-width="1.2"/>
<circle cx="155.8" cy="578.5" r="2.0" fill="#f0f09a" stroke="#a2a22a" stroke-width="1.2"/>
<circle cx="170.4" cy="574.3" r="2.0" fill="#f0f09a" stroke="#a2a22a" stroke-width="1.2"/>
<circle cx="188.8" cy="573.4" r="2.0" fill="#f0f09a" stroke="#a2a22a" stroke-width="1.2"/>
<circle cx="188.8" cy="575.4" r="2.0" fill="#f0f09a" stroke="#a2a22a" stroke-width="1.2"/>
<circle cx="174.2" cy="581.5" r="2.0" fill="#f0f09a" stroke="#a2a22a" stroke-width="1.2"/>
<circle cx="185.5" cy="579.5" r="2.0" fill="#f0f09a" stroke="#a2a22a" stroke-width="1.2"/>
<circle cx="188.8" cy="582.3" r="2.0" fill="#f0f09a" stroke="#a2a22a" stroke-width="1.2"/>
<circle cx="155.8" cy="585.4" r="2.0" fill="#f0f09a" stroke="#a2a22a" stroke-width="1.2"/>
<circle cx="159.3" cy="584.2" r="2.0" fill="#f0f09a" stroke="#a2a22a" stroke-width="1.2"/>
<circle cx="207.8" cy="589.2" r="2.0" fill="#f0f09a" stroke="#a2a22a" stroke-width="1.2"/>
<circle cx="213.9" cy="607.7" r="2.0" fill="#f0f09a" stroke="#a2a22a" stroke-width="1.2"/>
<circle cx="225.8" cy="498" r="2.0" fill="#f0f09a" stroke="#a2a22a" stroke-width="1.2"/>
<circle cx="225.8" cy="525.8" r="2.0" fill="#f0f09a" stroke="#a2a22a" stroke-width="1.2"/>
<circle cx="218.9" cy="551.2" r="2.0" fill="#f0f09a" stroke="#a2a22a" stroke-width="1.2"/>
<circle cx="226.2" cy="549.7" r="2.0" fill="#f0f09a" stroke="#a2a22a" stroke-width="1.2"/>
<circle cx="218.9" cy="560.8" r="2.0" fill="#f0f09a" stroke="#a2a22a" stroke-width="1.2"/>
<circle cx="281.5" cy="553.8" r="2.0" fill="#f0f09a" stroke="#a2a22a" stroke-width="1.2"/>
<circle cx="281.5" cy="559.2" r="2.0" fill="#f0f09a" stroke="#a2a22a" stroke-width="1.2"/>
<circle cx="266.9" cy="568.5" r="2.0" fill="#f0f09a" stroke="#a2a22a" stroke-width="1.2"/>
<circle cx="252" cy="574.6" r="2.0" fill="#f0f09a" stroke="#a2a22a" stroke-width="1.2"/>
<circle cx="266.9" cy="576.9" r="2.0" fill="#f0f09a" stroke="#a2a22a" stroke-width="1.2"/>
<circle cx="288.9" cy="578.2" r="2.0" fill="#f0f09a" stroke="#a2a22a" stroke-width="1.2"/>
<circle cx="226.2" cy="583.8" r="2.0" fill="#f0f09a" stroke="#a2a22a" stroke-width="1.2"/>
<circle cx="226.2" cy="585.7" r="2.0" fill="#f0f09a" stroke="#a2a22a" stroke-width="1.2"/>
<circle cx="226.2" cy="599.2" r="2.0" fill="#f0f09a" stroke="#a2a22a" stroke-width="1.2"/>
<circle cx="241.2" cy="595.4" r="2.0" fill="#f0f09a" stroke="#a2a22a" stroke-width="1.2"/>
<circle cx="255.7" cy="593.5" r="2.0" fill="#f0f09a" stroke="#a2a22a" stroke-width="1.2"/>
<circle cx="250.3" cy="606.2" r="2.0" fill="#f0f09a" stroke="#a2a22a" stroke-width="1.2"/>
<circle cx="250.3" cy="610" r="2.0" fill="#f0f09a" stroke="#a2a22a" stroke-width="1.2"/>
<circle cx="266.9" cy="596.6" r="2.0" fill="#f0f09a" stroke="#a2a22a" stroke-width="1.2"/>
<circle cx="277.7" cy="598.5" r="2.0" fill="#f0f09a" stroke="#a2a22a" stroke-width="1.2"/>
<circle cx="277.7" cy="601.5" r="2.0" fill="#f0f09a" stroke="#a2a22a" stroke-width="1.2"/>
<circle cx="288.9" cy="592.3" r="2.0" fill="#f0f09a" stroke="#a2a22a" stroke-width="1.2"/>
<circle cx="322.4" cy="523.1" r="2.0" fill="#f0f09a" stroke="#a2a22a" stroke-width="1.2"/>
<circle cx="292.7" cy="537.7" r="2.0" fill="#f0f09a" stroke="#a2a22a" stroke-width="1.2"/>
<circle cx="315" cy="534.2" r="2.0" fill="#f0f09a" stroke="#a2a22a" stroke-width="1.2"/>
<circle cx="326.1" cy="534.2" r="2.0" fill="#f0f09a" stroke="#a2a22a" stroke-width="1.2"/>
<circle cx="348.1" cy="533.1" r="2.0" fill="#f0f09a" stroke="#a2a22a" stroke-width="1.2"/>
<circle cx="333.5" cy="540" r="2.0" fill="#f0f09a" stroke="#a2a22a" stroke-width="1.2"/>
<circle cx="296.5" cy="553.1" r="2.0" fill="#f0f09a" stroke="#a2a22a" stroke-width="1.2"/>
<circle cx="333.5" cy="551.5" r="2.0" fill="#f0f09a" stroke="#a2a22a" stroke-width="1.2"/>
<circle cx="344.5" cy="552" r="2.0" fill="#f0f09a" stroke="#a2a22a" stroke-width="1.2"/>
<circle cx="355.8" cy="548.5" r="2.0" fill="#f0f09a" stroke="#a2a22a" stroke-width="1.2"/>
<circle cx="307.8" cy="557.4" r="2.0" fill="#f0f09a" stroke="#a2a22a" stroke-width="1.2"/>
<circle cx="303.9" cy="562.3" r="2.0" fill="#f0f09a" stroke="#a2a22a" stroke-width="1.2"/>
<circle cx="303.9" cy="565.1" r="2.0" fill="#f0f09a" stroke="#a2a22a" stroke-width="1.2"/>
<circle cx="311.5" cy="560.8" r="2.0" fill="#f0f09a" stroke="#a2a22a" stroke-width="1.2"/>
<circle cx="311.5" cy="563.1" r="2.0" fill="#f0f09a" stroke="#a2a22a" stroke-width="1.2"/>
<circle cx="307.8" cy="566.9" r="2.0" fill="#f0f09a" stroke="#a2a22a" stroke-width="1.2"/>
<circle cx="311.5" cy="568.8" r="2.0" fill="#f0f09a" stroke="#a2a22a" stroke-width="1.2"/>
<circle cx="322.4" cy="569.2" r="2.0" fill="#f0f09a" stroke="#a2a22a" stroke-width="1.2"/>
<circle cx="326.1" cy="567.7" r="2.0" fill="#f0f09a" stroke="#a2a22a" stroke-width="1.2"/>
<circle cx="355.8" cy="560.8" r="2.0" fill="#f0f09a" stroke="#a2a22a" stroke-width="1.2"/>
<circle cx="359.6" cy="565.4" r="2.0" fill="#f0f09a" stroke="#a2a22a" stroke-width="1.2"/>
<circle cx="359.6" cy="573.1" r="2.0" fill="#f0f09a" stroke="#a2a22a" stroke-width="1.2"/>
<circle cx="333.5" cy="576.2" r="2.0" fill="#f0f09a" stroke="#a2a22a" stroke-width="1.2"/>
<circle cx="296.5" cy="580.3" r="2.0" fill="#f0f09a" stroke="#a2a22a" stroke-width="1.2"/>
<circle cx="311.5" cy="579.5" r="2.0" fill="#f0f09a" stroke="#a2a22a" stroke-width="1.2"/>
<circle cx="348.1" cy="582.6" r="2.0" fill="#f0f09a" stroke="#a2a22a" stroke-width="1.2"/>
<circle cx="341.2" cy="584.6" r="2.0" fill="#f0f09a" stroke="#a2a22a" stroke-width="1.2"/>
<circle cx="329.6" cy="589.2" r="2.0" fill="#f0f09a" stroke="#a2a22a" stroke-width="1.2"/>
<circle cx="337.3" cy="589.2" r="2.0" fill="#f0f09a" stroke="#a2a22a" stroke-width="1.2"/>
<circle cx="345" cy="589.2" r="2.0" fill="#f0f09a" stroke="#a2a22a" stroke-width="1.2"/>
<circle cx="329.6" cy="593.5" r="2.0" fill="#f0f09a" stroke="#a2a22a" stroke-width="1.2"/>
<circle cx="348.1" cy="592.6" r="2.0" fill="#f0f09a" stroke="#a2a22a" stroke-width="1.2"/>
<circle cx="355.8" cy="592" r="2.0" fill="#f0f09a" stroke="#a2a22a" stroke-width="1.2"/>
<circle cx="341.2" cy="595.7" r="2.0" fill="#f0f09a" stroke="#a2a22a" stroke-width="1.2"/>
<circle cx="326.1" cy="600" r="2.0" fill="#f0f09a" stroke="#a2a22a" stroke-width="1.2"/>
<circle cx="329.6" cy="603.8" r="2.0" fill="#f0f09a" stroke="#a2a22a" stroke-width="1.2"/>
<circle cx="359.6" cy="598.5" r="2.0" fill="#f0f09a" stroke="#a2a22a" stroke-width="1.2"/>
<circle cx="355.8" cy="603.8" r="2.0" fill="#f0f09a" stroke="#a2a22a" stroke-width="1.2"/>
<circle cx="348.1" cy="613.8" r="2.0" fill="#f0f09a" stroke="#a2a22a" stroke-width="1.2"/>
<circle cx="348.1" cy="619.7" r="2.0" fill="#f0f09a" stroke="#a2a22a" stroke-width="1.2"/>
<circle cx="329.6" cy="620.3" r="2.0" fill="#f0f09a" stroke="#a2a22a" stroke-width="1.2"/>
<circle cx="382" cy="546.2" r="2.0" fill="#f0f09a" stroke="#a2a22a" stroke-width="1.2"/>
<circle cx="433.5" cy="560.8" r="2.0" fill="#f0f09a" stroke="#a2a22a" stroke-width="1.2"/>
<circle cx="382" cy="585.1" r="2.0" fill="#f0f09a" stroke="#a2a22a" stroke-width="1.2"/>
<circle cx="385.4" cy="589.2" r="2.0" fill="#f0f09a" stroke="#a2a22a" stroke-width="1.2"/>
<circle cx="370.5" cy="606.9" r="2.0" fill="#f0f09a" stroke="#a2a22a" stroke-width="1.2"/>
<circle cx="388.9" cy="609.7" r="2.0" fill="#f0f09a" stroke="#a2a22a" stroke-width="1.2"/>
<circle cx="414.9" cy="600" r="2.0" fill="#f0f09a" stroke="#a2a22a" stroke-width="1.2"/>
<path d="M66.8,504.6 L71.4,507.7 L76.0,510.6 L80.7,513.5 L85.3,516.2 L90.0,518.8 L94.6,521.2 L99.3,523.4 L103.9,525.6 L108.6,527.6 L113.2,529.6 L117.9,531.4 L122.5,533.2 L127.2,534.9 L131.8,536.6 L136.4,538.2 L141.1,539.8 L145.7,541.3 L150.4,542.9 L155.0,544.4 L159.7,545.9 L164.3,547.4 L169.0,548.8 L173.6,550.2 L178.3,551.6 L182.9,552.9 L187.6,554.2 L192.2,555.4 L196.8,556.5 L201.5,557.6 L206.1,558.7 L210.8,559.7 L215.4,560.6 L220.1,561.4 L224.7,562.3 L229.4,563.1 L234.0,563.8 L238.7,564.6 L243.3,565.3 L248.0,565.9 L252.6,566.6 L257.2,567.3 L261.9,567.9 L266.5,568.5 L271.2,569.1 L275.8,569.7 L280.5,570.3 L285.1,570.9 L289.8,571.5 L294.4,572.1 L299.1,572.6 L303.7,573.1 L308.4,573.6 L313.0,574.1 L317.6,574.6 L322.3,575.1 L326.9,575.5 L331.6,576.0 L336.2,576.5 L340.9,577.0 L345.5,577.5 L350.2,578.1 L354.8,578.6 L359.5,579.2 L364.1,579.8 L368.8,580.5 L373.4,581.1 L378.0,581.8 L382.7,582.5 L387.3,583.3 L392.0,584.0 L396.6,584.8 L401.3,585.6 L405.9,586.4 L410.6,587.2 L415.2,588.0 L419.9,588.9 L424.5,589.7 L429.2,590.6 L433.8,591.5" fill="none" stroke="#1a1a1a" stroke-width="1.6"/>
<circle cx="159.3" cy="544.6" r="2.3" fill="#a01828"/>
<circle cx="174.2" cy="545.7" r="2.3" fill="#a01828"/>
<circle cx="281.5" cy="540.5" r="2.3" fill="#a01828"/>
<circle cx="288.9" cy="548.5" r="2.3" fill="#a01828"/>
<circle cx="144.5" cy="523.1" r="2.5" fill="#000"/>
<rect x="309.5" y="432.2" width="108" height="55.6" rx="8" ry="8" fill="none" stroke="#111" stroke-width="2.3" stroke-dasharray="5.5 3"/>
<circle cx="320.7" cy="442.8" r="2.0" fill="#f0f09a" stroke="#a2a22a" stroke-width="1.2"/>
<circle cx="320.7" cy="459.3" r="2.3" fill="#000"/>
<circle cx="320.7" cy="474.9" r="2.3" fill="#a01828"/>
<text x="334" y="447.8" font-size="9.4" fill="#1a1a1a" stroke="#1a1a1a" stroke-width="0.2" textLength="76" lengthAdjust="spacingAndGlyphs">Healthy volunteers</text>
<text x="334" y="462.4" font-size="9.4" fill="#1a1a1a" stroke="#1a1a1a" stroke-width="0.2" textLength="33" lengthAdjust="spacingAndGlyphs">Proband</text>
<text x="334" y="480.1" font-size="9.4" fill="#1a1a1a" stroke="#1a1a1a" stroke-width="0.2" textLength="66" lengthAdjust="spacingAndGlyphs">Family members</text>
<text x="219.3" y="714.6" font-size="12" fill="#1a1a1a" stroke="#1a1a1a" stroke-width="0.2" textLength="59.6" lengthAdjust="spacingAndGlyphs">Age (years)</text>
<text transform="translate(42.6,617.4) rotate(-90)" x="0" y="0" font-size="11.6" fill="#1a1a1a" stroke="#1a1a1a" stroke-width="0.2" textLength="141.6" lengthAdjust="spacingAndGlyphs">Telomere length (T/S ratio)</text>
</svg></body></html>
